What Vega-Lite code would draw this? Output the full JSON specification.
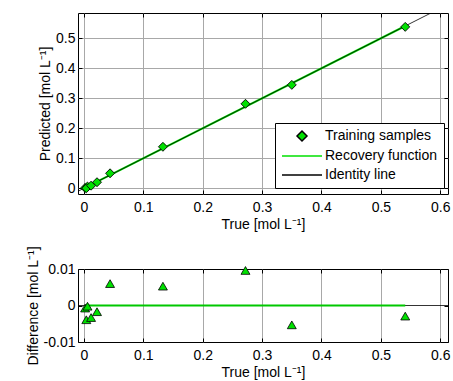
{
  "$schema": "https://vega.github.io/schema/vega-lite/v6.json",
  "padding": {"left": 25, "top": 1, "right": 0, "bottom": 1},
  "background": "white",
  "spacing": 13,
  "config": {
    "font": "Liberation Sans",
    "view": {"stroke": "black", "strokeWidth": 1},
    "axis": {
      "labelFont": "Liberation Sans", "labelFontSize": 14, "labelColor": "black",
      "titleFont": "Liberation Sans", "titleFontSize": 14, "titleFontWeight": "normal", "titleColor": "black",
      "gridColor": "#a8a8a8", "gridOpacity": 1, "gridWidth": 1,
      "domain": false, "tickColor": "black", "tickSize": -4, "tickWidth": 1,
      "labelPadding": 10, "labelFlush": false, "titlePadding": 3
    },
    "axisY": {"labelPadding": 7},
    "legend": {
      "labelFont": "Liberation Sans", "labelFontSize": 14, "labelColor": "black",
      "orient": "none", "legendX": 197, "legendY": 110,
      "strokeColor": "black", "fillColor": "white", "padding": 6,
      "symbolSize": 100, "symbolOffset": 14, "labelOffset": 16, "rowPadding": 5,
      "symbolStrokeWidth": 1.5, "symbolOpacity": 1
    }
  },
  "datasets": {
    "samples": [
      {"t": 0.002, "p": 0.0013, "d": -0.0007, "series": "Training samples"},
      {"t": 0.006, "p": 0.0058, "d": -0.0002, "series": "Training samples"},
      {"t": 0.004, "p": 0.0001, "d": -0.0039, "series": "Training samples"},
      {"t": 0.012, "p": 0.0087, "d": -0.0033, "series": "Training samples"},
      {"t": 0.022, "p": 0.0203, "d": -0.0017, "series": "Training samples"},
      {"t": 0.044, "p": 0.0500, "d": 0.0060, "series": "Training samples"},
      {"t": 0.133, "p": 0.1383, "d": 0.0053, "series": "Training samples"},
      {"t": 0.272, "p": 0.2816, "d": 0.0096, "series": "Training samples"},
      {"t": 0.350, "p": 0.3447, "d": -0.0053, "series": "Training samples"},
      {"t": 0.541, "p": 0.5381, "d": -0.0029, "series": "Training samples"}
    ],
    "recovery": [
      {"t": 0.003, "p": 0.003, "d": 0, "series": "Recovery function"},
      {"t": 0.541, "p": 0.541, "d": 0, "series": "Recovery function"}
    ],
    "identity": [
      {"t": -0.02, "p": -0.02, "d": 0, "series": "Identity line"},
      {"t": 0.62, "p": 0.62, "d": 0, "series": "Identity line"}
    ]
  },
  "vconcat": [
    {
      "width": 370,
      "height": 181,
      "layer": [
        {
          "data": {"name": "identity"},
          "mark": {"type": "line", "opacity": 0},
          "encoding": {
            "x": {"field": "t", "type": "quantitative", "scale": {"domain": [-0.01, 0.613], "nice": false, "zero": false},
              "axis": {"orient": "bottom", "values": [0, 0.1, 0.2, 0.3, 0.4, 0.5, 0.6], "title": "True [mol L⁻¹]", "grid": true, "labelExpr": "'' + datum.value"}},
            "y": {"field": "p", "type": "quantitative", "scale": {"domain": [-0.019, 0.5843], "nice": false, "zero": false},
              "axis": {"orient": "left", "values": [0, 0.1, 0.2, 0.3, 0.4, 0.5], "title": "Predicted [mol L⁻¹]", "grid": true, "labelExpr": "'' + datum.value"}}
          }
        },
        {
          "data": {"name": "recovery"},
          "mark": {"type": "line", "color": "#00e000", "strokeWidth": 2},
          "encoding": {
            "x": {"field": "t", "type": "quantitative", "axis": {"orient": "top", "values": [0, 0.1, 0.2, 0.3, 0.4, 0.5, 0.6], "labels": false, "title": null, "grid": false}},
            "y": {"field": "p", "type": "quantitative", "axis": {"orient": "right", "values": [0, 0.1, 0.2, 0.3, 0.4, 0.5], "labels": false, "title": null, "grid": false}}
          }
        },
        {
          "data": {"name": "identity"},
          "mark": {"type": "line", "color": "black", "strokeWidth": 0.8, "clip": true},
          "encoding": {
            "x": {"field": "t", "type": "quantitative", "axis": null},
            "y": {"field": "p", "type": "quantitative", "axis": null}
          }
        },
        {
          "data": {"name": "samples"},
          "mark": {"type": "point", "filled": false, "fill": "#00e000", "strokeWidth": 0.9, "size": 80, "opacity": 1},
          "encoding": {
            "x": {"field": "t", "type": "quantitative", "axis": null},
            "y": {"field": "p", "type": "quantitative", "axis": null},
            "color": {
              "field": "series", "type": "nominal", "title": null,
              "scale": {"domain": ["Training samples", "Recovery function", "Identity line"], "range": ["black", "#00e000", "black"]}
            },
            "shape": {
              "field": "series", "type": "nominal", "title": null,
              "scale": {"domain": ["Training samples", "Recovery function", "Identity line"], "range": ["diamond", "M-4,0L4,0", "M-4,0L4,0"]}
            }
          }
        }
      ]
    },
    {
      "width": 370,
      "height": 73,
      "layer": [
        {
          "data": {"name": "identity"},
          "mark": {"type": "line", "color": "black", "strokeWidth": 0.8, "clip": true},
          "encoding": {
            "x": {"field": "t", "type": "quantitative", "scale": {"domain": [-0.01, 0.613], "nice": false, "zero": false},
              "axis": {"orient": "bottom", "values": [0, 0.1, 0.2, 0.3, 0.4, 0.5, 0.6], "title": "True [mol L⁻¹]", "grid": true, "labelExpr": "'' + datum.value"}},
            "y": {"field": "d", "type": "quantitative", "scale": {"domain": [-0.01, 0.01], "nice": false, "zero": false},
              "axis": {"orient": "left", "values": [-0.01, 0, 0.01], "title": "Difference [mol L⁻¹]", "grid": false, "labelExpr": "'' + datum.value"}}
          }
        },
        {
          "data": {"name": "recovery"},
          "mark": {"type": "line", "color": "#00c800", "strokeWidth": 2},
          "encoding": {
            "x": {"field": "t", "type": "quantitative", "axis": {"orient": "top", "values": [0, 0.1, 0.2, 0.3, 0.4, 0.5, 0.6], "labels": false, "title": null, "grid": false}},
            "y": {"field": "d", "type": "quantitative", "axis": {"orient": "right", "values": [-0.01, 0, 0.01], "labels": false, "title": null, "grid": false}}
          }
        },
        {
          "data": {"name": "samples"},
          "mark": {"type": "point", "shape": "triangle-up", "filled": true, "fill": "#00e000", "stroke": "black", "strokeWidth": 0.8, "size": 80, "opacity": 1},
          "encoding": {
            "x": {"field": "t", "type": "quantitative", "axis": null},
            "y": {"field": "d", "type": "quantitative", "axis": null}
          }
        }
      ]
    }
  ]
}
